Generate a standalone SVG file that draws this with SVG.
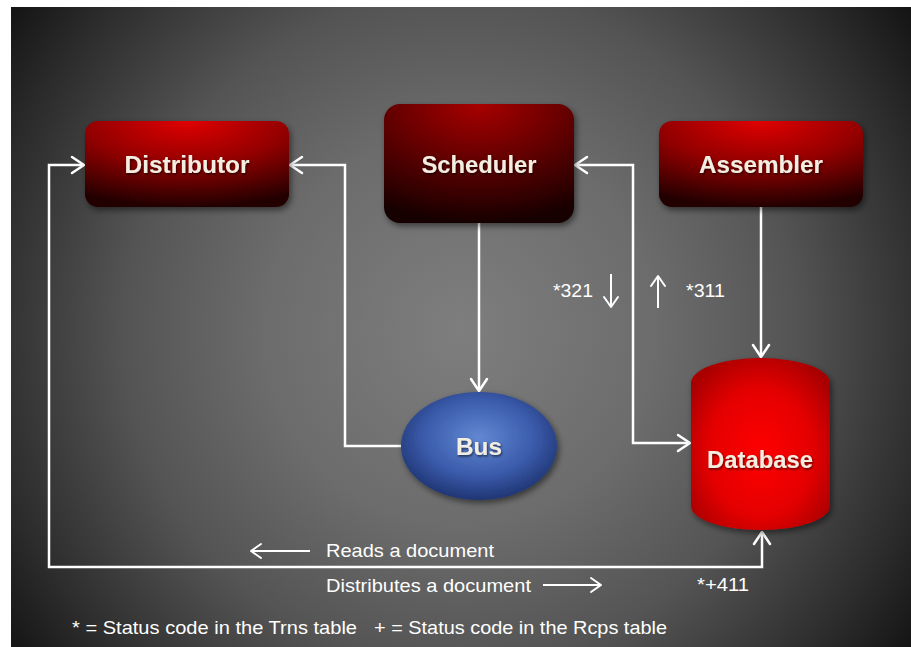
<svg xmlns="http://www.w3.org/2000/svg" width="911" height="647" viewBox="0 0 911 647">
<defs>
<radialGradient id="bg" gradientUnits="userSpaceOnUse" cx="460" cy="330" r="560">
<stop offset="0" stop-color="#7e7e7e"/><stop offset="0.35" stop-color="#6c6c6c"/><stop offset="0.6" stop-color="#545454"/><stop offset="0.85" stop-color="#2c2c2c"/><stop offset="1" stop-color="#121212"/>
</radialGradient>
<radialGradient id="redBox" cx="0.5" cy="0" r="1">
<stop offset="0" stop-color="#e00000"/><stop offset="0.5" stop-color="#920000"/><stop offset="1" stop-color="#220000"/>
</radialGradient>
<radialGradient id="darkBox" cx="0.5" cy="0" r="1">
<stop offset="0" stop-color="#a80000"/><stop offset="0.5" stop-color="#600000"/><stop offset="1" stop-color="#160000"/>
</radialGradient>
<radialGradient id="blue" cx="0.5" cy="0.42" r="0.6">
<stop offset="0" stop-color="#6288d2"/><stop offset="0.6" stop-color="#3a5aaa"/><stop offset="1" stop-color="#1d326e"/>
</radialGradient>
<radialGradient id="dbRed" cx="0.5" cy="0.55" r="0.62">
<stop offset="0" stop-color="#ff0202"/><stop offset="0.6" stop-color="#e40000"/><stop offset="1" stop-color="#a80000"/>
</radialGradient>
<filter id="shadow" x="-20%" y="-20%" width="140%" height="150%">
<feDropShadow dx="2" dy="3" stdDeviation="3" flood-color="#000" flood-opacity="0.5"/>
</filter>
<filter id="tshadow" x="-10%" y="-30%" width="120%" height="160%">
<feDropShadow dx="1" dy="1.5" stdDeviation="1" flood-color="#000" flood-opacity="0.6"/>
</filter>
<marker id="arr" markerUnits="userSpaceOnUse" viewBox="-14 -10 16 20" refX="0" refY="0" markerWidth="16" markerHeight="20" orient="auto-start-reverse">
<path d="M-12,-8 L0,0 L-12,8" fill="none" stroke="#fff" stroke-width="2.5" stroke-linecap="round" stroke-linejoin="round"/>
</marker>
<marker id="sarr" markerUnits="userSpaceOnUse" viewBox="-12 -9 14 18" refX="0" refY="0" markerWidth="14" markerHeight="18" orient="auto-start-reverse">
<path d="M-10,-7 L0,0 L-10,7" fill="none" stroke="#fff" stroke-width="2" stroke-linecap="round" stroke-linejoin="round"/>
</marker>
</defs>
<style>
.conn{fill:none;stroke:#fff;stroke-width:2.5}
.small{fill:none;stroke:#fff;stroke-width:2}
.nlabel{font-family:"Liberation Sans",Arial,sans-serif;font-weight:bold;font-size:24px;fill:#f3eee2;text-anchor:middle}
.lbl{font-family:"Liberation Sans",Arial,sans-serif;font-size:19px;fill:#fff}
</style>
<rect x="11" y="7" width="900" height="640" fill="url(#bg)"/>

<g id="connectors">
<path class="conn" d="M401,446 H345 V165 H290" marker-end="url(#arr)"/>
<path class="conn" d="M479,223 V391" marker-end="url(#arr)"/>
<path class="conn" d="M690,443 H633 V165 H575" marker-start="url(#arr)" marker-end="url(#arr)"/>
<path class="conn" d="M761,207 V357" marker-end="url(#arr)"/>
<path class="conn" d="M84,165 H49 V567 H762 V532" marker-start="url(#arr)" marker-end="url(#arr)"/>
<path class="small" d="M611,274 V307" marker-end="url(#sarr)"/>
<path class="small" d="M658,308 V276" marker-end="url(#sarr)"/>
<path class="small" d="M310,551 H251" marker-end="url(#sarr)"/>
<path class="small" d="M543,585 H601" marker-end="url(#sarr)"/>
</g>

<g id="distributor">
<rect x="85" y="121" width="204" height="86" rx="13" fill="url(#redBox)" filter="url(#shadow)"/>
<text class="nlabel" x="187" y="173" textLength="125" lengthAdjust="spacingAndGlyphs" filter="url(#tshadow)">Distributor</text>
</g>
<g id="scheduler">
<rect x="384" y="104" width="190" height="119" rx="16" fill="url(#darkBox)" filter="url(#shadow)"/>
<text class="nlabel" x="479" y="173" textLength="115" lengthAdjust="spacingAndGlyphs" filter="url(#tshadow)">Scheduler</text>
</g>
<g id="assembler">
<rect x="659" y="121" width="204" height="86" rx="13" fill="url(#redBox)" filter="url(#shadow)"/>
<text class="nlabel" x="761" y="173" textLength="124" lengthAdjust="spacingAndGlyphs" filter="url(#tshadow)">Assembler</text>
</g>
<g id="bus">
<ellipse cx="479" cy="446" rx="78" ry="54" fill="url(#blue)" filter="url(#shadow)"/>
<text class="nlabel" x="479" y="455" textLength="46" lengthAdjust="spacingAndGlyphs" filter="url(#tshadow)">Bus</text>
</g>
<g id="database">
<path d="M691,383 A69.5,25 0 0 1 830,383 V506 A69.5,24 0 0 1 691,506 Z" fill="url(#dbRed)" filter="url(#shadow)"/>
<text class="nlabel" x="760" y="468" textLength="106" lengthAdjust="spacingAndGlyphs" filter="url(#tshadow)">Database</text>
</g>

<g id="labels">
<text class="lbl" x="553" y="297" textLength="40" lengthAdjust="spacingAndGlyphs">*321</text>
<text class="lbl" x="686" y="297" textLength="39" lengthAdjust="spacingAndGlyphs">*311</text>
<text class="lbl" x="326" y="557" textLength="168" lengthAdjust="spacingAndGlyphs">Reads a document</text>
<text class="lbl" x="326" y="592" textLength="205" lengthAdjust="spacingAndGlyphs">Distributes a document</text>
<text class="lbl" x="697" y="591" textLength="52" lengthAdjust="spacingAndGlyphs">*+411</text>
<text class="lbl" x="72" y="634" textLength="285" lengthAdjust="spacingAndGlyphs">* = Status code in the Trns table</text>
<text class="lbl" x="374" y="634" textLength="293" lengthAdjust="spacingAndGlyphs">+ = Status code in the Rcps table</text>
</g>
</svg>
